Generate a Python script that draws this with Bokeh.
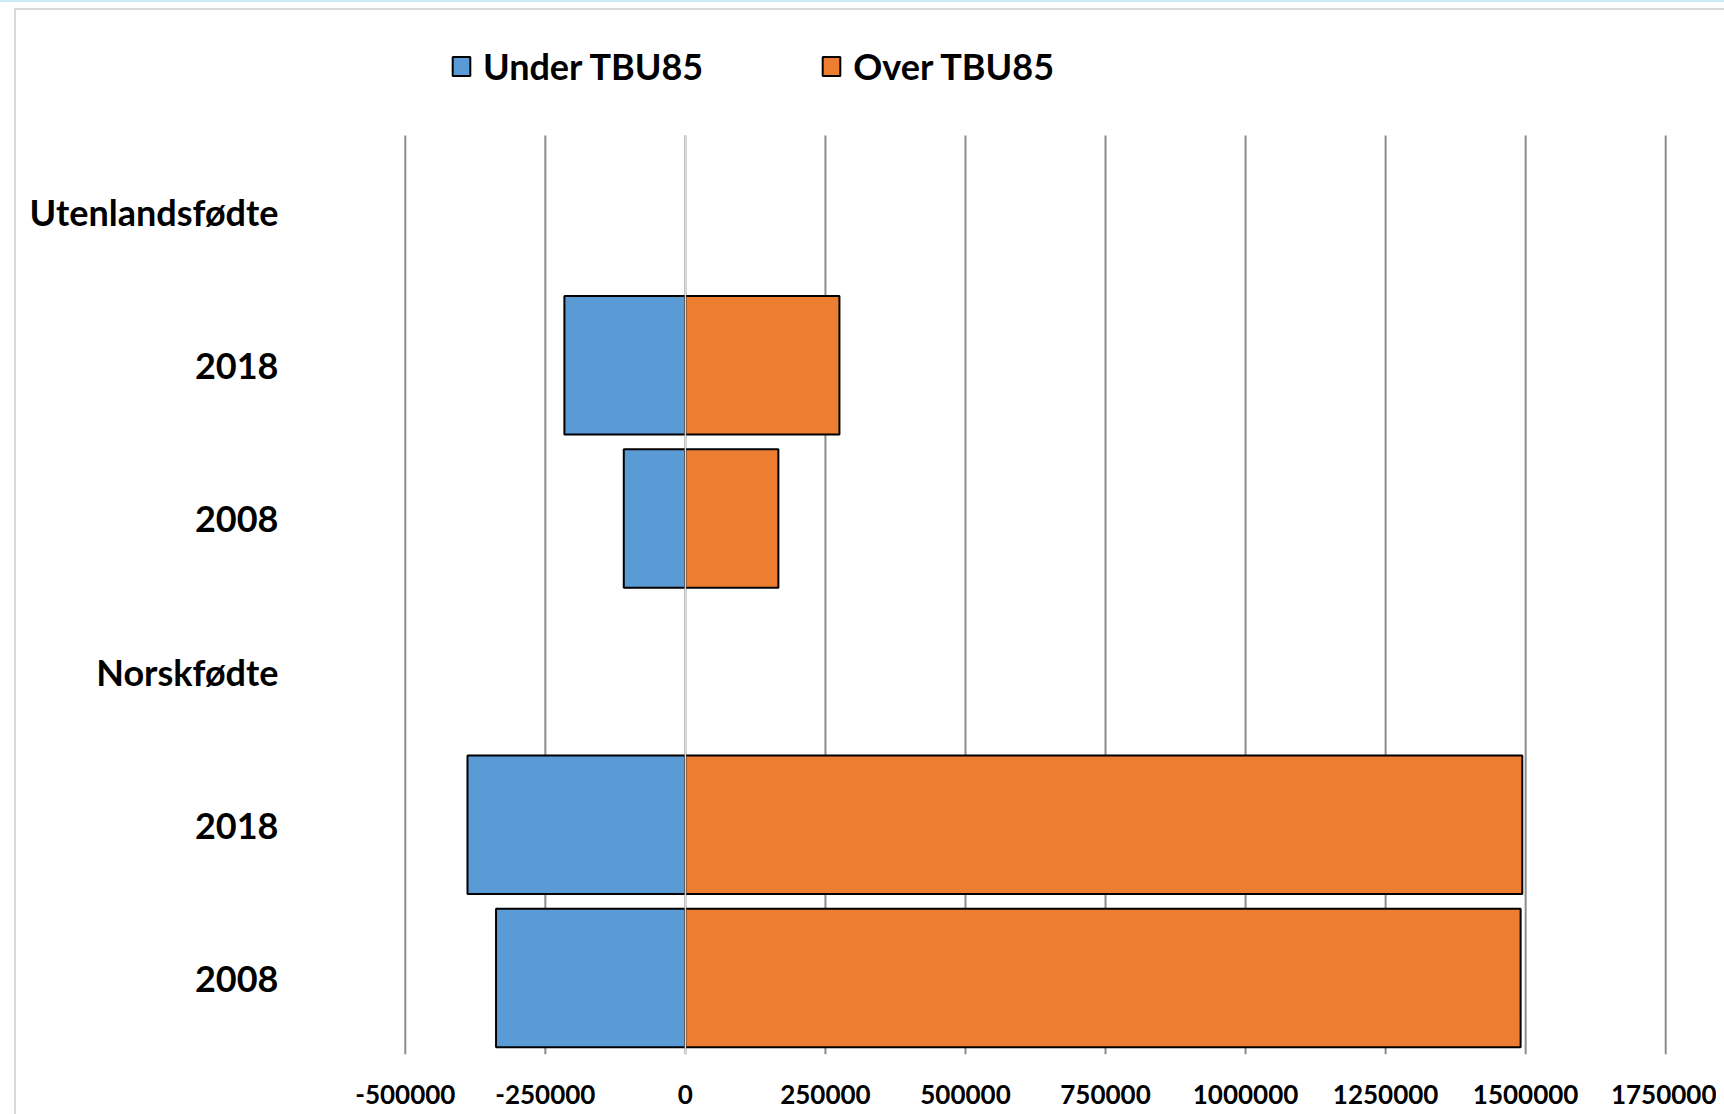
from bokeh.plotting import figure
from bokeh.models import (ColumnDataSource, Range1d, FixedTicker,
                          CustomJSTickFormatter, Legend, LegendItem)
from bokeh.embed import file_html
from bokeh.resources import INLINE

# ---- data ----
groups = ["Utenlandsfødte", "Norskfødte"]
years = ["2018", "2008"]
series = ["Under TBU85", "Over TBU85"]
# order: Utenlandsfødte 2018, Utenlandsfødte 2008, Norskfødte 2018, Norskfødte 2008
under_tbu85 = [-216000, -110000, -389000, -338000]
over_tbu85 = [275000, 166000, 1494000, 1491000]
x_ticks = [-500000, -250000, 0, 250000, 500000, 750000, 1000000, 1250000, 1500000, 1750000]

# ---- rows (top to bottom) ----
row_labels = []
bar_rows = []
for g in groups:
    row_labels.append(g)
    for y in years:
        bar_rows.append(len(row_labels))
        row_labels.append(y)
n_rows = len(row_labels)

src = ColumnDataSource(dict(y=bar_rows, under=under_tbu85, over=over_tbu85,
                            zero=[0] * len(bar_rows)))

# ---- layout ----
W, H = 1716, 1109
B_LEFT, B_RIGHT, B_BOTTOM = 402, 48, 55
CHART_TOP = 135                      # px from canvas top where the plot area starts
frame_h = H - B_BOTTOM
extra_rows = CHART_TOP * n_rows / (frame_h - CHART_TOP)
pad = 0.02 * (x_ticks[1] - x_ticks[0])

p = figure(width=W, height=H, output_backend="svg", toolbar_location=None,
           y_range=Range1d(n_rows - 0.5, -0.5 - extra_rows),
           x_range=Range1d(x_ticks[0] - pad, x_ticks[-1] + pad),
           min_border_left=B_LEFT, min_border_right=B_RIGHT, min_border_top=0,
           min_border_bottom=B_BOTTOM)
p.outline_line_color = None
p.background_fill_color = "white"
p.border_fill_color = "white"
p.xgrid.grid_line_color = None
p.ygrid.grid_line_color = None

BLUE = "#5b9bd5"
ORANGE = "#ed7d31"

# vertical gridlines over the plot area only
p.segment(x0=x_ticks, x1=x_ticks, y0=[-0.5] * len(x_ticks),
          y1=[n_rows - 0.5] * len(x_ticks), line_color="#8c8c8c", line_width=2)

r_under = p.hbar(y="y", left="under", right="zero", height=0.904, source=src,
                 fill_color=BLUE, line_color="black", line_width=2)
r_over = p.hbar(y="y", left="zero", right="over", height=0.904, source=src,
                fill_color=ORANGE, line_color="black", line_width=2)

# value axis line at zero, drawn over the bars
p.segment(x0=[0], x1=[0], y0=[-0.5], y1=[n_rows - 0.5],
          line_color="#d9d9d9", line_width=1.5)

# x axis
xa = p.xaxis[0]
xa.ticker = FixedTicker(ticks=x_ticks)
xa.formatter = CustomJSTickFormatter(code="return tick.toFixed(0);")
xa.axis_line_color = None
xa.major_tick_line_color = None
xa.minor_tick_line_color = None
xa.major_label_text_font = "Lato"
xa.major_label_text_font_style = "bold"
xa.major_label_text_font_size = "26px"
xa.major_label_text_color = "black"
xa.major_label_standoff = 24

# y axis
ya = p.yaxis[0]
ya.ticker = FixedTicker(ticks=list(range(n_rows)))
ya.major_label_overrides = {i: lab for i, lab in enumerate(row_labels)}
ya.axis_line_color = None
ya.major_tick_line_color = None
ya.minor_tick_line_color = None
ya.major_label_text_font = "Lato"
ya.major_label_text_font_style = "bold"
ya.major_label_text_font_size = "36px"
ya.major_label_text_color = "black"
ya.major_label_standoff = 118

# legend in the space above the plot area
legend = Legend(items=[LegendItem(label=series[0], renderers=[r_under]),
                       LegendItem(label=series[1], renderers=[r_over])],
                location=(48, 966), orientation="horizontal",
                glyph_width=22, glyph_height=24, label_height=24,
                label_standoff=11, spacing=117, padding=0, margin=0,
                border_line_color=None, background_fill_alpha=0,
                label_text_font="Lato",
                label_text_font_style="bold", label_text_font_size="36px",
                label_text_color="black")
p.add_layout(legend, "center")

# thin page decorations (chart-area border and top rule), drawn by CSS only
TEMPLATE = """
{% block postamble %}
<style>
  body::before {
    content: ""; position: fixed; left: 14px; top: 8px; right: 0; bottom: 0;
    border-left: 2px solid #d9d9d9; border-top: 2px solid #d9d9d9;
    pointer-events: none; z-index: 10;
  }
  body::after {
    content: ""; position: fixed; left: 0; top: 0; right: 0; height: 2px;
    background: #c9eef6; pointer-events: none; z-index: 10;
  }
</style>
{% endblock %}
"""

open("out.html", "w").write(file_html(p, INLINE, template=TEMPLATE))
